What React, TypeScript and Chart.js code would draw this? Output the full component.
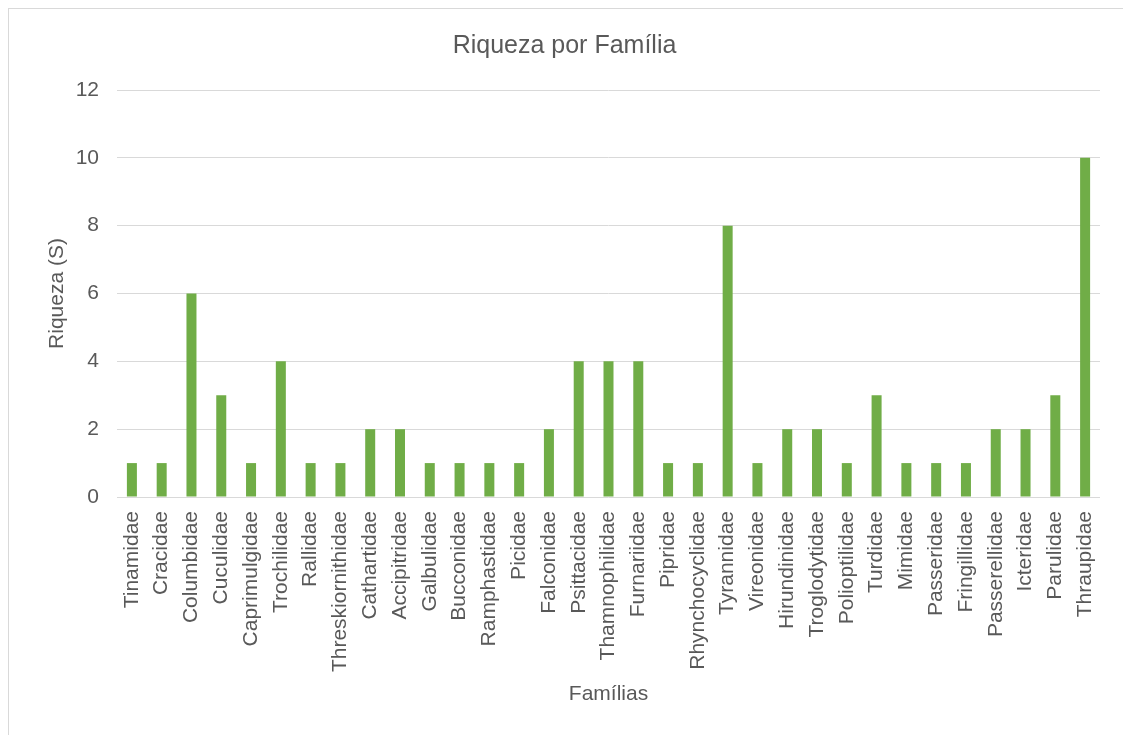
import React, { useEffect, useRef } from "react";
import { Chart, registerables } from "chart.js";

Chart.register(...registerables);

const familias: string[] = [
  "Tinamidae", "Cracidae", "Columbidae", "Cuculidae", "Caprimulgidae", "Trochilidae",
  "Rallidae", "Threskiornithidae", "Cathartidae", "Accipitridae", "Galbulidae", "Bucconidae",
  "Ramphastidae", "Picidae", "Falconidae", "Psittacidae", "Thamnophilidae", "Furnariidae",
  "Pipridae", "Rhynchocyclidae", "Tyrannidae", "Vireonidae", "Hirundinidae", "Troglodytidae",
  "Polioptilidae", "Turdidae", "Mimidae", "Passeridae", "Fringillidae", "Passerellidae",
  "Icteridae", "Parulidae", "Thraupidae",
];

const riqueza: number[] = [
  1, 1, 6, 3, 1, 4,
  1, 1, 2, 2, 1, 1,
  1, 1, 2, 4, 4, 4,
  1, 1, 8, 1, 2, 2,
  1, 3, 1, 1, 1, 2,
  2, 3, 10,
];

const yMin = 0;
const yMax = 12;
const yStep = 2;

const titleText = "Riqueza por Família";
const yTitle = "Riqueza (S)";
const xTitle = "Famílias";

export default function App() {
  const ref = useRef<HTMLCanvasElement | null>(null);

  useEffect(() => {
    if (!ref.current) return;
    const font = "'Liberation Sans', Arial, sans-serif";
    const grey = "#595959";
    const chart = new Chart(ref.current, {
      type: "bar",
      data: {
        labels: familias,
        datasets: [
          {
            label: "Riqueza",
            data: riqueza,
            backgroundColor: "#70ad47",
            borderWidth: 0,
            categoryPercentage: 1,
            barPercentage: 0.336,
          },
        ],
      },
      options: {
        responsive: false,
        animation: false,
        layout: { padding: { left: 20, right: 23, top: 5, bottom: 16 } },
        plugins: {
          legend: { display: false },
          tooltip: { enabled: false },
          title: {
            display: true,
            text: titleText,
            color: grey,
            font: { family: font, size: 25, weight: "normal" },
            padding: { top: 17, bottom: 29 },
          },
        },
        scales: {
          x: {
            grid: { display: false, drawTicks: false },
            border: { display: false },
            ticks: {
              color: grey,
              font: { family: font, size: 21 },
              minRotation: 90,
              maxRotation: 90,
              autoSkip: false,
              padding: 14,
            },
            title: {
              display: true,
              text: xTitle,
              color: grey,
              font: { family: font, size: 21 },
              padding: { top: 0, bottom: 12 },
            },
            afterFit: (scale: any) => {
              scale.height = 222;
              scale.paddingLeft = 0;
              scale.paddingRight = 0;
            },
          },
          y: {
            min: yMin,
            max: yMax,
            grid: { color: "#d9d9d9", lineWidth: 1, drawTicks: false },
            border: { display: false },
            ticks: {
              stepSize: yStep,
              color: grey,
              font: { family: font, size: 21 },
              padding: 18,
            },
            title: {
              display: true,
              text: yTitle,
              color: grey,
              font: { family: font, size: 21 },
              padding: { top: 16, bottom: 0 },
            },
            afterFit: (scale: any) => {
              scale.width = 88;
            },
          },
        },
      },
    } as any);
    return () => chart.destroy();
  }, []);

  return (
    <div
      style={{
        position: "absolute",
        left: 8,
        top: 8,
        width: 1115,
        height: 727,
        boxSizing: "border-box",
        borderLeft: "1px solid #d9d9d9",
        borderTop: "1px solid #d9d9d9",
        background: "#fff",
      }}
    >
      <canvas ref={ref} width={1114} height={726} style={{ display: "block" }} />
    </div>
  );
}
